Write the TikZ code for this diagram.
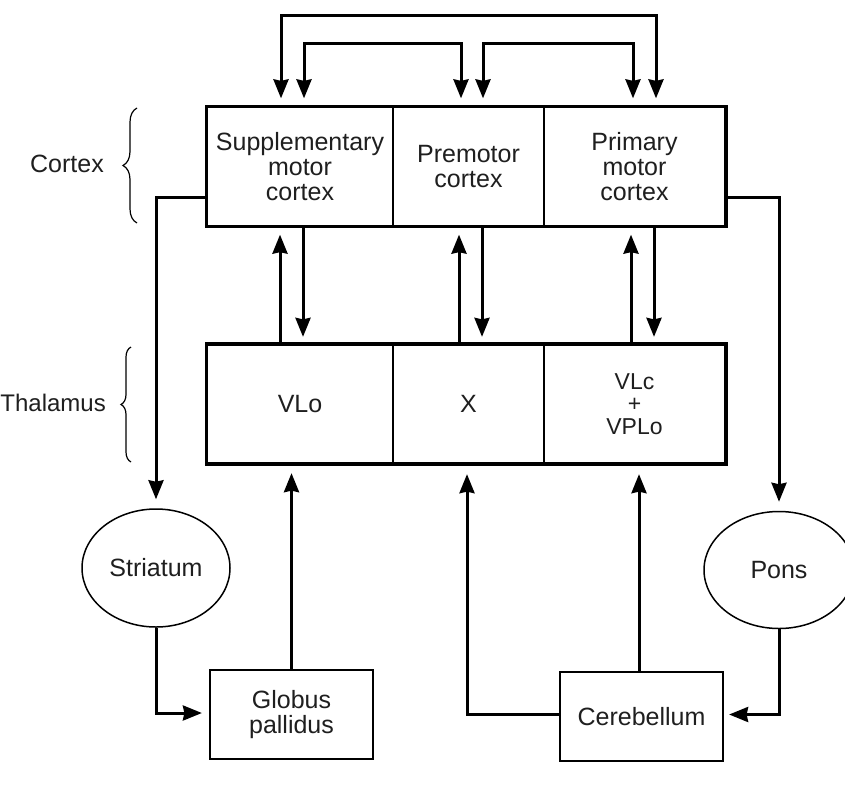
\documentclass[tikz,border=0pt]{standalone}
\usepackage{fontspec}
\setmainfont{Liberation Sans}
\usetikzlibrary{shapes.geometric,arrows.meta,calc,decorations.pathreplacing}
\begin{document}
\begin{tikzpicture}[x=1pt,y=-1pt,
  every node/.style={font=\fontsize{25}{25}\selectfont, text=black!88},
  cell/.style={draw, line width=1.8pt, minimum height=118.5pt, inner sep=0pt, align=center},
  frame/.style={line width=3.2pt},
  smallbox/.style={draw, line width=2.2pt, minimum width=163pt, minimum height=89pt, align=center, inner sep=0pt},
  oval/.style={draw, ellipse, line width=1.5pt, minimum width=148pt, minimum height=118pt, inner sep=0pt},
  link/.style={line width=3pt, -{Stealth[length=19pt,width=15pt,inset=1.5pt]}},
  dlink/.style={line width=3pt, {Stealth[length=19pt,width=15pt,inset=1.5pt]}-{Stealth[length=19pt,width=15pt,inset=1.5pt]}},
  brc/.style={decorate, decoration={brace, amplitude=#1}, line width=1.2pt},
  lbl/.style={inner sep=0pt}
]
\useasboundingbox[fill=white] (0,0) rectangle (845,798);

% cortex
\node[cell, minimum width=186pt] (smc) at (300,166.5) {Supplementary\\motor\\cortex};
\node[cell, minimum width=151pt] (pmc) at (468.5,166.5) {Premotor\\cortex};
\node[cell, minimum width=181pt] (m1) at (634.5,166.5) {Primary\\motor\\cortex};
\draw[frame] (smc.north west) rectangle (m1.south east);

% thalamus
\node[cell, minimum width=186pt] (vlo) at (300,404) {VLo};
\node[cell, minimum width=151pt] (xn) at (468.5,404) {X};
\node[cell, minimum width=181pt, font=\fontsize{23}{22.5}\selectfont] (vpl) at (634.5,404) {VLc\\+\\VPLo};
\draw[frame] (vlo.north west) rectangle (vpl.south east);

% lower structures
\node[oval] (str) at (156,568) {Striatum};
\node[oval, minimum width=150pt, minimum height=117pt] (pons) at (779,570) {Pons};
\node[smallbox] (gp) at (291.5,714.5) {Globus\\pallidus};
\node[smallbox] (cb) at (641.5,716.5) {Cerebellum};

% side labels
\node[lbl] (lc) at (67,164) {Cortex};
\node[lbl, anchor=east, font=\fontsize{24}{24}\selectfont] (lt) at (106,403) {Thalamus};
\draw[brc=14pt] (137,223) -- (137,108);
\draw[brc=10pt] (131,462) -- (131,347);

% cortico-cortical loops
\draw[dlink] ($(smc.north)+(-19,-8)$) -- ++(0,-83) -| ($(m1.north)+(21.5,-8)$);
\draw[dlink] ($(smc.north)+(4,-8)$) -- ++(0,-55) -| ($(pmc.north)+(-7.5,-8)$);
\draw[dlink] ($(pmc.north)+(14.5,-8)$) -- ++(0,-55) -| ($(m1.north)+(-1.5,-8)$);

% cortex <-> thalamus
\draw[link] ($(vlo.north)+(-20,0)$) -- ($(smc.south)+(-20,8)$);
\draw[link] ($(smc.south)+(3,0)$) -- ($(vlo.north)+(3,-7)$);
\draw[link] ($(xn.north)+(-9.5,0)$) -- ($(pmc.south)+(-9.5,8)$);
\draw[link] ($(pmc.south)+(13.5,0)$) -- ($(xn.north)+(13.5,-7)$);
\draw[link] ($(vpl.north)+(-3.5,0)$) -- ($(m1.south)+(-3.5,8)$);
\draw[link] ($(m1.south)+(19.5,0)$) -- ($(vpl.north)+(19.5,-7)$);

% basal ganglia loop
\draw[link] ($(smc.west)+(0,30.5)$) -| ($(str.north)+(0,-9)$);
\draw[link] (str.south) |- ($(gp.west)+(-7,-1.5)$);
\draw[link] (gp.north) -- ($(gp.north |- vlo.south)+(0,9)$);

% cerebellar loop
\draw[link] ($(m1.east)+(0,30.5)$) -| ($(pons.north)+(0,-9)$);
\draw[link] (pons.south) |- ($(cb.east)+(5,-2)$);
\draw[link] ($(cb.north)+(-2.5,0)$) -- ($(vpl.south)+(4.5,10)$);
\draw[link] ($(cb.west)+(0,-2.5)$) -| ($(xn.south)+(-1.5,10)$);
\end{tikzpicture}
\end{document}
